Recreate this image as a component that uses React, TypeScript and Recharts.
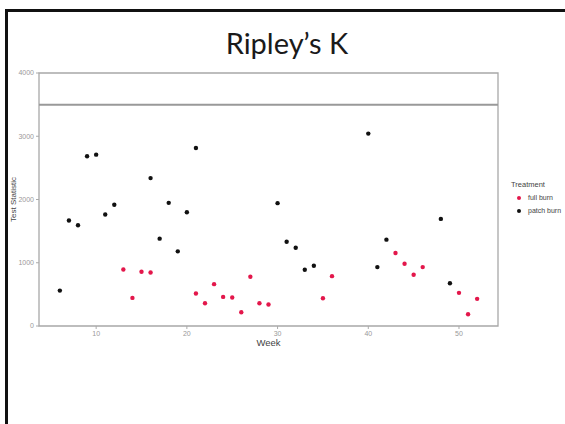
import React from "react";
import {
  ScatterChart,
  Scatter,
  XAxis,
  YAxis,
  ReferenceLine,
  ReferenceArea,
  Label,
  Legend,
} from "recharts";

const patchWeeks = [6, 7, 8, 9, 10, 11, 12, 16, 17, 18, 19, 20, 21, 30, 31, 32, 33, 34, 40, 41, 42, 48, 49];
const patchValues = [560, 1667, 1592, 2683, 2709, 1762, 1916, 2338, 1381, 1947, 1180, 1799, 2815, 1942, 1333, 1238, 889, 952, 3042, 931, 1365, 1693, 677];

const fullWeeks = [13, 14, 15, 16, 21, 22, 23, 24, 25, 26, 27, 28, 29, 35, 36, 43, 44, 45, 46, 50, 51, 52];
const fullValues = [894, 444, 857, 846, 513, 360, 662, 460, 450, 217, 778, 360, 339, 439, 788, 1153, 984, 810, 931, 524, 185, 429];

const xTicks = [10, 20, 30, 40, 50];
const yTicks = [0, 1000, 2000, 3000, 4000];
const seriesNames = ["full burn", "patch burn"];
const seriesColors = ["#e3174b", "#111111"];

const fullData = fullWeeks.map((w, i) => ({ week: w, value: fullValues[i] }));
const patchData = patchWeeks.map((w, i) => ({ week: w, value: patchValues[i] }));

const FONT = "'Liberation Sans', Arial, sans-serif";

const dot = (color: string) => (p: any) =>
  <circle cx={p.cx} cy={p.cy} r={2.2} fill={color} />;

const LegendContent = () => (
  <div style={{ fontFamily: FONT, fontSize: 7, color: "#444", lineHeight: "13px" }}>
    <div style={{ fontSize: 7.5, color: "#444" }}>Treatment</div>
    {seriesNames.map((n, i) => (
      <div key={n} style={{ display: "flex", alignItems: "center" }}>
        <svg width={14} height={10}>
          <circle cx={8} cy={5} r={2} fill={seriesColors[i]} />
        </svg>
        <span style={{ marginLeft: 3, color: "#444" }}>{n}</span>
      </div>
    ))}
  </div>
);

export default function App() {
  return (
    <div
      style={{
        position: "absolute",
        left: 0,
        top: 0,
        width: 565,
        height: 424,
        background: "#ffffff",
        overflow: "hidden",
      }}
    >
      <div style={{ position: "absolute", left: 5, top: 9, width: 2.5, height: 415, background: "#111" }} />
      <div style={{ position: "absolute", left: 5, top: 9, width: 560, height: 2.5, background: "#111" }} />
      <div
        style={{
          position: "absolute",
          left: 0,
          width: 574,
          top: 26,
          textAlign: "center",
          fontFamily: "Lato, 'Open Sans', sans-serif",
          fontSize: 29,
          color: "#1a1a1a",
          lineHeight: "34px",
        }}
      >
        Ripley’s K
      </div>
      <div style={{ position: "absolute", left: 0, top: 0 }}>
        <ScatterChart
          width={565}
          height={424}
          margin={{ top: 73, right: 67, bottom: 68, left: 0 }}
        >
          <XAxis
            dataKey="week"
            type="number"
            domain={[3.7, 54.3]}
            ticks={xTicks}
            allowDataOverflow
            height={30}
            axisLine={false}
            tickLine={{ stroke: "#aaa" }}
            tickSize={3}
            tick={{ fontSize: 7, fill: "#999", fontFamily: FONT }}
          >
            <Label value="Week" position="insideBottom" offset={10} style={{ fontSize: 9.5, fill: "#444", fontFamily: FONT }} />
          </XAxis>
          <YAxis
            dataKey="value"
            type="number"
            domain={[0, 4000]}
            ticks={yTicks}
            width={39}
            axisLine={false}
            tickLine={{ stroke: "#aaa" }}
            tickSize={3}
            tick={{ fontSize: 7, fill: "#999", fontFamily: FONT }}
          >
            <Label
              content={(props: any) => {
                const vb = props.viewBox || {};
                const cx = 13;
                const cy = vb.y + vb.height / 2;
                return (
                  <text
                    x={cx}
                    y={cy}
                    transform={`rotate(-90 ${cx} ${cy})`}
                    textAnchor="middle"
                    dominantBaseline="central"
                    style={{ fontSize: 8, fill: "#444", fontFamily: FONT }}
                  >
                    Test Statistic
                  </text>
                );
              }}
            />
          </YAxis>
          <ReferenceArea x1={3.7} x2={54.3} y1={0} y2={4000} fill="none" stroke="#a8a8a8" strokeWidth={1.3} />
          <ReferenceLine y={3500} stroke="#999" strokeWidth={2} />
          <Scatter name={seriesNames[0]} data={fullData} fill={seriesColors[0]} shape={dot(seriesColors[0])} isAnimationActive={false} />
          <Scatter name={seriesNames[1]} data={patchData} fill={seriesColors[1]} shape={dot(seriesColors[1])} isAnimationActive={false} />
          <Legend
            layout="horizontal"
            verticalAlign="middle"
            align="center"
            content={<LegendContent />}
            wrapperStyle={{ position: "absolute", left: 511, top: 178, width: 60 }}
          />
        </ScatterChart>
      </div>
    </div>
  );
}
